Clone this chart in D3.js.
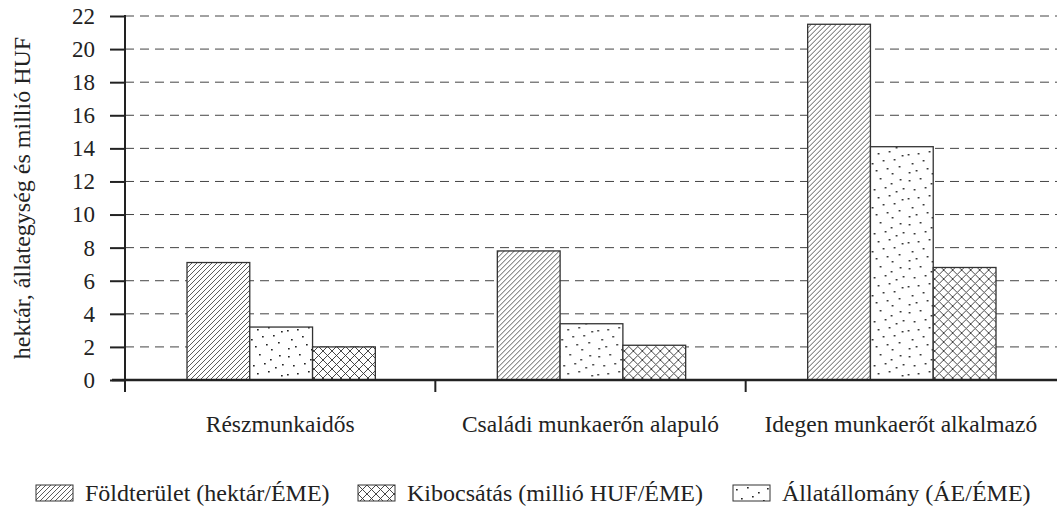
<!DOCTYPE html>
<html>
<head>
<meta charset="utf-8">
<script src="https://cdn.jsdelivr.net/npm/d3@7.9.0/dist/d3.min.js"></script>
<style>
  body { margin: 0; background: #fff; }
  text { font-family: "Liberation Serif", "Times New Roman", serif; fill: #222; }
</style>
</head>
<body>
<div id="chart"></div>
<script>
// data
const categories = ["Részmunkaidős", "Családi munkaerőn alapuló", "Idegen munkaerőt alkalmazó"];
const seriesNames = ["Földterület (hektár/ÉME)", "Állatállomány (ÁE/ÉME)", "Kibocsátás (millió HUF/ÉME)"];
const foldterulet = [7.1, 7.8, 21.5];
const allatallomany = [3.2, 3.4, 14.1];
const kibocsatas = [2.0, 2.1, 6.8];
const yTicks = [0, 2, 4, 6, 8, 10, 12, 14, 16, 18, 20, 22];
const legendOrder = ["Földterület (hektár/ÉME)", "Kibocsátás (millió HUF/ÉME)", "Állatállomány (ÁE/ÉME)"];

const seriesValues = [foldterulet, allatallomany, kibocsatas];
const patternIds = ["hatch", "dots", "cross"];

const width = 1057, height = 515;
const margin = { top: 16, right: 1, bottom: 135, left: 125 };

let svg = d3.select("#chart")
    .append("svg")
    .attr("width", width)
    .attr("height", height);

// fill patterns
let defs = svg.append("defs");

let hatch = defs.append("pattern")
    .attr("id", "hatch")
    .attr("patternUnits", "userSpaceOnUse")
    .attr("width", 5).attr("height", 5);
hatch.append("rect").attr("width", 5).attr("height", 5).attr("fill", "#fff");
hatch.append("path")
    .attr("d", "M-1,6 L6,-1 M-1,1 L1,-1 M4,6 L6,4")
    .attr("stroke", "#333").attr("stroke-width", 0.8);

let cross = defs.append("pattern")
    .attr("id", "cross")
    .attr("patternUnits", "userSpaceOnUse")
    .attr("width", 9).attr("height", 9);
cross.append("rect").attr("width", 9).attr("height", 9).attr("fill", "#fff");
cross.append("path")
    .attr("d", "M0,0 L9,9 M9,0 L0,9")
    .attr("stroke", "#333").attr("stroke-width", 0.9);

// scattered dot tile
const dotSpots = [[3,4],[14,2],[25,7],[34,3],[8,13],[19,11],[30,15],[2,22],[12,21],[23,19],
                  [36,23],[6,31],[17,28],[28,27],[33,34],[10,38],[21,36],[3,40],[26,41],[37,12]];
let dots = defs.append("pattern")
    .attr("id", "dots")
    .attr("patternUnits", "userSpaceOnUse")
    .attr("width", 40).attr("height", 44);
dots.append("rect").attr("width", 40).attr("height", 44).attr("fill", "#fff");
dots.selectAll("rect.d").data(dotSpots).join("rect")
    .attr("class", "d")
    .attr("x", d => d[0]).attr("y", d => d[1])
    .attr("width", 1.7).attr("height", 1.5)
    .attr("fill", "#222");

// scales
let x0 = d3.scaleBand()
    .domain(categories)
    .range([margin.left, width - margin.right])
    .paddingInner(0)
    .paddingOuter(0);

let x1 = d3.scaleBand()
    .domain(d3.range(seriesNames.length))
    .range([62, x0.bandwidth() - 60]);

let y = d3.scaleLinear()
    .domain([0, 22])
    .range([height - margin.bottom, margin.top]);

// dashed grid
svg.append("g")
    .selectAll("line")
    .data(yTicks.filter(d => d > 0))
    .join("line")
    .attr("x1", margin.left).attr("x2", width)
    .attr("y1", d => y(d)).attr("y2", d => y(d))
    .attr("stroke", "#444")
    .attr("stroke-width", 1)
    .attr("stroke-dasharray", "9,6");

// bars
let groups = svg.append("g")
    .selectAll("g")
    .data(categories)
    .join("g")
    .attr("transform", d => `translate(${x0(d)},0)`);

groups.selectAll("rect")
    .data((c, ci) => seriesValues.map((vals, si) => ({ si: si, v: vals[ci] })))
    .join("rect")
    .attr("x", d => x1(d.si))
    .attr("width", x1.bandwidth())
    .attr("y", d => y(d.v))
    .attr("height", d => y(0) - y(d.v))
    .attr("fill", d => `url(#${patternIds[d.si]})`)
    .attr("stroke", "#333")
    .attr("stroke-width", 1.3);

// y axis
let yAxis = svg.append("g")
    .attr("transform", `translate(${margin.left},0)`)
    .call(d3.axisLeft(y).tickValues(yTicks).tickSize(15).tickPadding(15));
yAxis.select(".domain")
    .attr("d", `M0,${margin.top - 1}V${y(0) + 12}`)
    .attr("stroke", "#222").attr("stroke-width", 2);
yAxis.selectAll(".tick line").attr("stroke", "#222").attr("stroke-width", 2);
yAxis.selectAll(".tick text")
    .style("font-family", '"Liberation Serif", serif')
    .style("font-size", "23px")
    .attr("fill", "#222");

// x axis line and category separators
svg.append("line")
    .attr("x1", margin.left - 13).attr("x2", width)
    .attr("y1", y(0)).attr("y2", y(0))
    .attr("stroke", "#222").attr("stroke-width", 2.5);

svg.append("g")
    .selectAll("line")
    .data(categories.slice(1))
    .join("line")
    .attr("x1", d => x0(d)).attr("x2", d => x0(d))
    .attr("y1", y(0)).attr("y2", y(0) + 12)
    .attr("stroke", "#222").attr("stroke-width", 2);

svg.append("g")
    .selectAll("text")
    .data(categories)
    .join("text")
    .attr("x", d => x0(d) + x0.bandwidth() / 2)
    .attr("y", y(0) + 52)
    .attr("text-anchor", "middle")
    .style("font-size", "23.5px")
    .text(d => d);

// y axis title
svg.append("text")
    .attr("transform", `translate(30,${(margin.top + y(0)) / 2}) rotate(-90)`)
    .attr("text-anchor", "middle")
    .style("font-size", "24px")
    .text("hektár, állategység és millió HUF");

// legend
const legendX = [36, 358, 733];
let legend = svg.append("g")
    .selectAll("g")
    .data(legendOrder)
    .join("g")
    .attr("transform", (d, i) => `translate(${legendX[i]},485)`);

legend.append("rect")
    .attr("width", 37).attr("height", 16)
    .attr("fill", d => `url(#${patternIds[seriesNames.indexOf(d)]})`)
    .attr("stroke", "#333").attr("stroke-width", 1);

legend.append("text")
    .attr("x", 49).attr("y", 16)
    .style("font-size", "24px")
    .text(d => d);
</script>
</body>
</html>
